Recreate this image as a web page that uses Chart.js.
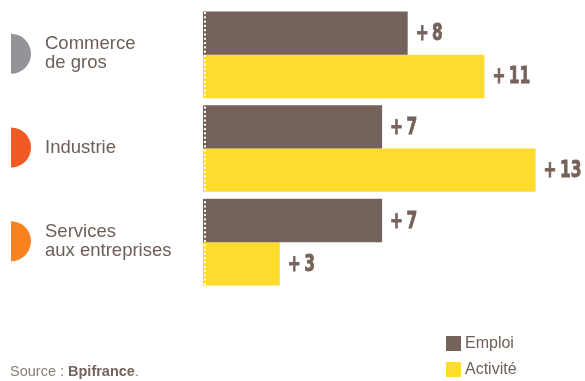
<!DOCTYPE html>
<html lang="fr">
<head>
<meta charset="utf-8">
<script src="https://cdn.jsdelivr.net/npm/chart.js@4"></script>
<style>
  html, body { margin: 0; padding: 0; background: #fff; }
  #wrap { width: 585px; height: 381px; position: relative; }
</style>
</head>
<body>
<div id="wrap"><canvas id="growthChart"></canvas></div>
<script>
// Secteurs et variations (en %)
const sectors = [['Commerce', 'de gros'], ['Industrie'], ['Services', 'aux entreprises']];
const sectorColors = ['#929497', '#f15a24', '#f7821f'];
const emploi = [8, 7, 7];
const activite = [11, 13, 3];
const seriesNames = ['Emploi', 'Activité'];
const seriesColors = ['#75625a', '#fedc2d'];

const textColor = '#6d5e57';

// Labels "+ n" à droite des barres, pointillé blanc sur l'axe zéro
const barLabels = {
    id: 'barLabels',
    afterDatasetsDraw(chart) {
        const ctx = chart.ctx;
        const x0 = chart.scales.x.getPixelForValue(0);
        const area = chart.chartArea;
        ctx.save();
        ctx.fillStyle = '#ffffff';
        for (let y = area.top + 4; y < area.bottom - 3; y += 4.3) {
            ctx.fillRect(x0 + 1, y, 2, 2);
        }
        chart.data.datasets.forEach((ds, di) => {
            chart.getDatasetMeta(di).data.forEach((bar, i) => {
                const x = bar.x + 8;
                const y = bar.y + 1;
                ctx.save();
                ctx.translate(x, y);
                ctx.scale(0.78, 1.05);
                ctx.fillStyle = '#75625a';
                ctx.strokeStyle = '#75625a';
                ctx.lineWidth = 0.8;
                ctx.textBaseline = 'middle';
                ctx.font = 'bold 22px "DejaVu Sans Condensed", "DejaVu Sans"';
                ctx.fillText('+', 0, 0);
                ctx.strokeText('+', 0, 0);
                ctx.fillText(String(ds.data[i]), 21, 0);
                ctx.strokeText(String(ds.data[i]), 21, 0);
                ctx.restore();
            });
        });
        ctx.restore();
    }
};

// Demi-disques et noms de secteurs, légende et source
const sideLabels = {
    id: 'sideLabels',
    afterDraw(chart) {
        const ctx = chart.ctx;
        const yScale = chart.scales.y;
        ctx.save();
        sectors.forEach((lines, i) => {
            const cy = yScale.getPixelForValue(i) - 1;
            ctx.fillStyle = sectorColors[i];
            ctx.beginPath();
            ctx.arc(11, cy, 20, -Math.PI / 2, Math.PI / 2);
            ctx.closePath();
            ctx.fill();
            ctx.fillStyle = textColor;
            ctx.font = '18.5px "Liberation Sans", Arial, sans-serif';
            ctx.textBaseline = 'middle';
            const lh = 19;
            const startY = cy - (lines.length - 1) * lh / 2;
            lines.forEach((t, k) => ctx.fillText(t, 45, startY + k * lh));
        });

        // légende
        ctx.font = '16px "Liberation Sans", Arial, sans-serif';
        seriesNames.forEach((name, i) => {
            const y = 344 + i * 26;
            ctx.fillStyle = seriesColors[i];
            ctx.fillRect(446, y - 8, 15, 15);
            ctx.fillStyle = textColor;
            ctx.fillText(name, 465, y);
        });

        // source
        const f = '14.5px "Liberation Sans", Arial, sans-serif';
        ctx.font = f;
        ctx.fillStyle = '#8a7d76';
        const part1 = 'Source : ';
        ctx.fillText(part1, 10, 372);
        let x = 10 + ctx.measureText(part1).width;
        ctx.font = 'bold ' + f;
        ctx.fillStyle = '#75625a';
        ctx.fillText('Bpifrance', x, 372);
        x += ctx.measureText('Bpifrance').width;
        ctx.font = f;
        ctx.fillStyle = '#8a7d76';
        ctx.fillText('.', x, 372);
        ctx.restore();
    }
};

new Chart(document.getElementById('growthChart'), {
    type: 'bar',
    data: {
        labels: sectors.map(s => s.join(' ')),
        datasets: [
            { label: seriesNames[0], data: emploi, backgroundColor: seriesColors[0] },
            { label: seriesNames[1], data: activite, backgroundColor: seriesColors[1] }
        ]
    },
    options: {
        indexAxis: 'y',
        responsive: true,
        maintainAspectRatio: false,
        animation: false,
        categoryPercentage: 0.925,
        barPercentage: 1,
        layout: { padding: { left: 203, right: 11, top: 8, bottom: 92 } },
        scales: {
            x: { display: false, min: 0, max: 14.5 },
            y: { display: false }
        },
        plugins: {
            legend: { display: false },
            tooltip: { enabled: false }
        }
    },
    plugins: [barLabels, sideLabels]
});
</script>
</body>
</html>
